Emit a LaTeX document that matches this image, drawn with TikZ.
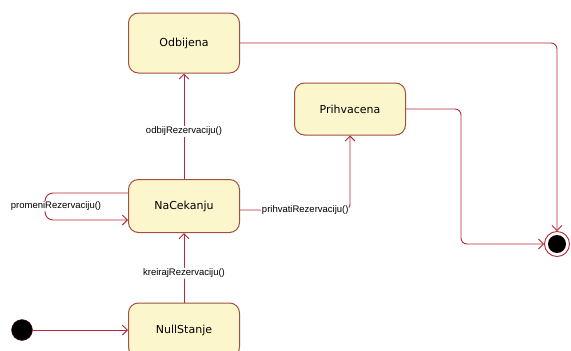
\documentclass[tikz,border=0pt]{standalone}
\usepackage{fontspec}
\setmainfont{DejaVu Sans}
\newfontfamily\trfont{Liberation Sans}
\usetikzlibrary{arrows.meta,calc}
\definecolor{stfill}{RGB}{252,246,204}
\definecolor{stdraw}{RGB}{160,80,60}
\definecolor{trline}{RGB}{180,40,55}
\begin{document}
\begin{tikzpicture}[x=1pt,y=-1pt,
  state/.style={draw=stdraw, fill=stfill, rounded corners=10pt, minimum width=111pt,
    line width=1pt, font=\fontsize{11}{13}\selectfont, inner sep=0pt},
  tr/.style={draw=trline, line width=0.9pt, -{Straight Barb[length=5pt,width=10pt]},
    rounded corners=6pt},
  trlabel/.style={font=\trfont\fontsize{9.5}{11}\selectfont, fill=white, inner sep=1pt}]
\useasboundingbox (0,0) rectangle (571,351);

% states
\node[state, minimum height=60pt] (odb) at (184,43) {Odbijena};
\node[state, minimum height=52pt] (pri) at (350,109) {Prihvacena};
\node[state, minimum height=53pt] (nac) at (184,206) {NaCekanju};
\node[state, minimum height=54pt] (nul) at (184,330) {NullStanje};

% pseudo states
\node[circle, fill=black, draw=trline!50!black, minimum size=21pt, inner sep=0pt] (ini) at (22,330) {};
\node[circle, draw=trline, fill=white, line width=0.9pt, minimum size=25pt, inner sep=0pt] (fin) at (557,244) {};
\node[circle, fill=black, minimum size=18pt, inner sep=0pt] (finin) at (fin.center) {};

% transitions
\draw[tr] (ini) -- (nul);
\draw[tr] (nul) -- node[trlabel, pos=0.42] {kreirajRezervaciju()} (nac);
\draw[tr] (nac) -- node[trlabel, pos=0.45] {odbijRezervaciju()} (odb);
\draw[tr] (nac.east |- 0,210) -| node[trlabel, pos=0.5, anchor=east] {prihvatiRezervaciju()} (pri.south);
\draw[tr] (odb.east) -| (fin.north);
\draw[tr] (pri.east) -- ++(55,0) |- (fin.west);

% self transition on NaCekanju
\draw[tr, rounded corners=8pt] (nac.west |- 0,193) -- (45,193) -- (45,220) -- (nac.west |- 0,220);
\node[trlabel] (loopl) at (56,206) {promeniRezervaciju()};
\end{tikzpicture}
\end{document}
